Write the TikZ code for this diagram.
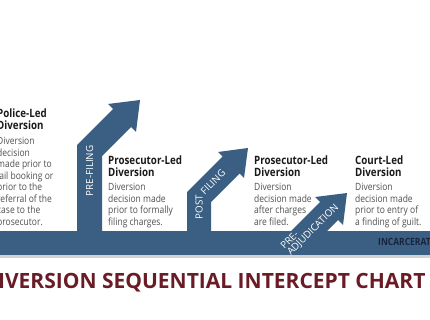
\documentclass[tikz,border=0pt]{standalone}
\usepackage{fontspec}
\setmainfont{Open Sans}
\newfontfamily\narrowsans[FakeStretch=0.85]{Open Sans}
\definecolor{bandblue}{RGB}{59,95,131}
\definecolor{headblack}{RGB}{26,26,26}
\definecolor{bodygray}{RGB}{80,80,80}
\definecolor{navytext}{RGB}{24,36,62}
\definecolor{titlered}{RGB}{106,28,38}
\begin{document}
\begin{tikzpicture}[x=1pt, y=-1pt,
	heading/.style={anchor=south west, inner sep=0pt, align=left, text depth=0pt, text=headblack, font=\narrowsans\bfseries\fontsize{11.5}{12}\selectfont},
	bodytext/.style={anchor=south west, inner sep=0pt, align=left, text depth=0pt, text=bodygray, font=\narrowsans\fontsize{10}{11.5}\selectfont},
	arrowlabel/.style={inner sep=0pt, align=left, text=white, font=\fontsize{9.8}{9}\selectfont}]
	
	\useasboundingbox (0,0) rectangle (430,320);
	\clip (0,0) rectangle (430,320);
	\fill[white] (0,0) rectangle (430,320);
	
	% band and its shadow
	\fill[gray!35] (-5,254) rectangle (435,257.5);
	\fill[bandblue] (-5,231) rectangle (435,254.5);
	
	% the three intercept arrows
	\fill[bandblue] (77,240) -- (77,145) -- (113,109) -- (108,104) -- (140,100) -- (136,132) -- (131,127) -- (102,156) -- (102,240) -- cycle;
	\fill[bandblue] (187,240) -- (187,192) -- (222.5,156.5) -- (218,152) -- (248,148) -- (244,178) -- (239.5,173.5) -- (211,202) -- (211,240) -- cycle;
	\fill[bandblue] (282,240) -- (320,202) -- (315,197) -- (347,193) -- (343,225) -- (338,220) -- (318,240) -- cycle;
	
	\node[arrowlabel, rotate=90] (prefiling) at (89.5,171) {PRE-FILING};
	\node[arrowlabel, rotate=90] (post) at (199,207) {POST};
	\node[arrowlabel, rotate=45] (filing) at (213,182) {FILING};
	\node[arrowlabel, rotate=45] (preadj) at (310,227) {PRE-\\ADJUDICATION};
	
	% text blocks
	\node[heading] (policehead) at (-3,130) {Police-Led\\Diversion};
	\node[bodytext] (policebody) at (-3,225.5) {Diversion\\decision\\made prior to\\jail booking or\\prior to the\\referral of the\\case to the\\prosecutor.};
	
	\node[heading] (prehead) at (108,177) {Prosecutor-Led\\Diversion};
	\node[bodytext] (prebody) at (108,225.5) {Diversion\\decision made\\prior to formally\\filing charges.};
	
	\node[heading] (posthead) at (254,177) {Prosecutor-Led\\Diversion};
	\node[bodytext] (postbody) at (254,225.5) {Diversion\\decision made\\after charges\\are filed.};
	
	\node[heading] (courthead) at (355,177) {Court-Led\\Diversion};
	\node[bodytext] (courtbody) at (355,225.5) {Diversion\\decision made\\prior to entry of\\a finding of guilt.};
	
	\node[anchor=base west, inner sep=0pt, text=navytext, font=\narrowsans\bfseries\fontsize{10}{10}\selectfont] (incarc) at (378,245) {INCARCERATION};
	
	\node[anchor=base, inner sep=0pt, text=titlered, font=\bfseries\fontsize{21}{21}\selectfont] (title) at (204,288) {DIVERSION SEQUENTIAL INTERCEPT CHART};
	
\end{tikzpicture}
\end{document}
